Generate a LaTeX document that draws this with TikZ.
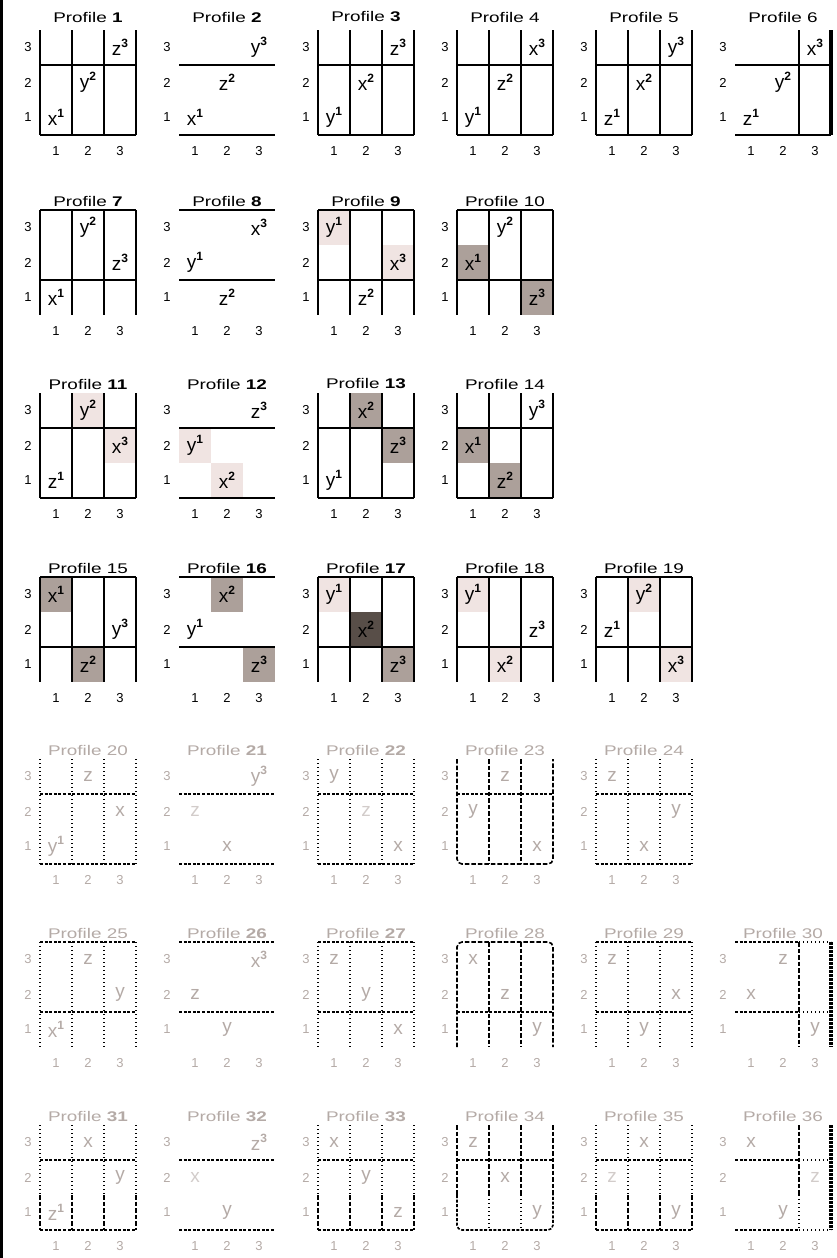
\documentclass[tikz,border=0pt]{standalone}
\usepackage{fontspec}
\setmainfont{Liberation Sans}
\newfontfamily\ttlfont[FakeStretch=1.35]{Liberation Sans}
\definecolor{tg}{RGB}{180,170,166}
\definecolor{shL}{RGB}{240,228,226}
\definecolor{shM}{RGB}{172,160,154}
\definecolor{shD}{RGB}{88,78,72}
\tikzset{
  gl/.style={line width=1.5pt},
  dotv/.style={line width=1.6pt, dash pattern=on 1.4pt off 2.6pt},
  dashh/.style={line width=1.6pt, dash pattern=on 3pt off 1.6pt},
  dashv/.style={line width=1.6pt, dash pattern=on 4.5pt off 2pt},
  thickr/.style={line width=4pt},
  entry/.style={inner sep=0pt, font=\fontsize{19}{19}\selectfont},
  lab/.style={inner sep=0pt, font=\fontsize{13}{13}\selectfont},
  ttl/.style={inner sep=0pt, font=\ttlfont\fontsize{14}{14}\selectfont},
}
\newcommand\Sp[2]{#1\raisebox{8pt}{\fontsize{12}{12}\selectfont\bfseries #2}}
\newcommand\En[5]{\node[entry,text=#5] (#1) at ({32*#2-16},{(3-#3)*35+17.5}) {#4};}
\newcommand\Sh[3]{\fill[#3] ({32*(#1-1)},{(3-#2)*35}) rectangle ++(32,35);}
\newcommand\Labs[2]{%
  \node[lab,text=#2] (#1r3) at (-12,17.5) {3};
  \node[lab,text=#2] (#1r2) at (-12,52.5) {2};
  \node[lab,text=#2] (#1r1) at (-12,87.5) {1};
  \node[lab,text=#2] (#1c1) at (16,121) {1};
  \node[lab,text=#2] (#1c2) at (48,121) {2};
  \node[lab,text=#2] (#1c3) at (80,121) {3};}
\newcommand\Ttl[4]{\node[ttl,text=#3] (#1t) at (48,#4) {Profile #2};}
\newcommand\VFull[1]{\draw[#1] (0,0)--(0,105) (32,0)--(32,105) (64,0)--(64,105) (96,0)--(96,105);}
\newcommand\HA[1]{\draw[#1] (0,35)--(96,35) (0,105)--(96,105);}
\newcommand\HB[1]{\draw[#1] (0,0)--(96,0) (0,70)--(96,70);}
\newcommand\VSplitA{\draw[dotv] (0,0)--(0,70) (32,0)--(32,70) (64,0)--(64,70) (96,0)--(96,70);
  \draw[dashv] (0,70)--(0,105) (32,70)--(32,105) (64,70)--(64,105) (96,70)--(96,105);}
\begin{document}
\begin{tikzpicture}[x=1pt,y=-1pt]
\useasboundingbox (0,0) rectangle (836,1258);
\draw[line width=3pt] (1.5,0) -- (1.5,1258);

% ---------- Row 1 ----------
\begin{scope}[shift={(40,30)}]
\VFull{gl}\HA{gl}
\Ttl{p1}{\textbf{1}}{black}{-13}\Labs{p1}{black}
\En{p1x}{1}{1}{\Sp{x}{1}}{black}\En{p1y}{2}{2}{\Sp{y}{2}}{black}\En{p1z}{3}{3}{\Sp{z}{3}}{black}
\end{scope}
\begin{scope}[shift={(179,30)}]
\HA{gl}
\Ttl{p2}{\textbf{2}}{black}{-13}\Labs{p2}{black}
\En{p2x}{1}{1}{\Sp{x}{1}}{black}\En{p2z}{2}{2}{\Sp{z}{2}}{black}\En{p2y}{3}{3}{\Sp{y}{3}}{black}
\end{scope}
\begin{scope}[shift={(318,30)}]
\VFull{gl}\HA{gl}
\Ttl{p3}{\textbf{3}}{black}{-13}\Labs{p3}{black}
\En{p3y}{1}{1}{\Sp{y}{1}}{black}\En{p3x}{2}{2}{\Sp{x}{2}}{black}\En{p3z}{3}{3}{\Sp{z}{3}}{black}
\end{scope}
\begin{scope}[shift={(457,30)}]
\VFull{gl}\HA{gl}
\Ttl{p4}{4}{black}{-13}\Labs{p4}{black}
\En{p4y}{1}{1}{\Sp{y}{1}}{black}\En{p4z}{2}{2}{\Sp{z}{2}}{black}\En{p4x}{3}{3}{\Sp{x}{3}}{black}
\end{scope}
\begin{scope}[shift={(596,30)}]
\VFull{gl}\HA{gl}
\Ttl{p5}{5}{black}{-13}\Labs{p5}{black}
\En{p5z}{1}{1}{\Sp{z}{1}}{black}\En{p5x}{2}{2}{\Sp{x}{2}}{black}\En{p5y}{3}{3}{\Sp{y}{3}}{black}
\end{scope}
\begin{scope}[shift={(735,30)}]
\draw[gl] (64,0)--(64,105);\draw[thickr] (96,0)--(96,105);\HA{gl}
\Ttl{p6}{6}{black}{-13}\Labs{p6}{black}
\En{p6z}{1}{1}{\Sp{z}{1}}{black}\En{p6y}{2}{2}{\Sp{y}{2}}{black}\En{p6x}{3}{3}{\Sp{x}{3}}{black}
\end{scope}

% ---------- Row 2 ----------
\begin{scope}[shift={(40,210)}]
\VFull{gl}\HB{gl}
\Ttl{p7}{\textbf{7}}{black}{-9}\Labs{p7}{black}
\En{p7x}{1}{1}{\Sp{x}{1}}{black}\En{p7y}{2}{3}{\Sp{y}{2}}{black}\En{p7z}{3}{2}{\Sp{z}{3}}{black}
\end{scope}
\begin{scope}[shift={(179,210)}]
\HB{gl}
\Ttl{p8}{\textbf{8}}{black}{-9}\Labs{p8}{black}
\En{p8y}{1}{2}{\Sp{y}{1}}{black}\En{p8z}{2}{1}{\Sp{z}{2}}{black}\En{p8x}{3}{3}{\Sp{x}{3}}{black}
\end{scope}
\begin{scope}[shift={(318,210)}]
\Sh{1}{3}{shL}\Sh{3}{2}{shL}
\VFull{gl}\HB{gl}
\Ttl{p9}{\textbf{9}}{black}{-9}\Labs{p9}{black}
\En{p9y}{1}{3}{\Sp{y}{1}}{black}\En{p9z}{2}{1}{\Sp{z}{2}}{black}\En{p9x}{3}{2}{\Sp{x}{3}}{black}
\end{scope}
\begin{scope}[shift={(457,210)}]
\Sh{1}{2}{shM}\Sh{3}{1}{shM}
\VFull{gl}\HB{gl}
\Ttl{p10}{10}{black}{-9}\Labs{p10}{black}
\En{p10x}{1}{2}{\Sp{x}{1}}{black}\En{p10y}{2}{3}{\Sp{y}{2}}{black}\En{p10z}{3}{1}{\Sp{z}{3}}{black}
\end{scope}

% ---------- Row 3 ----------
\begin{scope}[shift={(40,393)}]
\Sh{2}{3}{shL}\Sh{3}{2}{shL}
\VFull{gl}\HA{gl}
\Ttl{p11}{\textbf{11}}{black}{-9}\Labs{p11}{black}
\En{p11z}{1}{1}{\Sp{z}{1}}{black}\En{p11y}{2}{3}{\Sp{y}{2}}{black}\En{p11x}{3}{2}{\Sp{x}{3}}{black}
\end{scope}
\begin{scope}[shift={(179,393)}]
\Sh{1}{2}{shL}\Sh{2}{1}{shL}
\HA{gl}
\Ttl{p12}{\textbf{12}}{black}{-9}\Labs{p12}{black}
\En{p12y}{1}{2}{\Sp{y}{1}}{black}\En{p12x}{2}{1}{\Sp{x}{2}}{black}\En{p12z}{3}{3}{\Sp{z}{3}}{black}
\end{scope}
\begin{scope}[shift={(318,393)}]
\Sh{2}{3}{shM}\Sh{3}{2}{shM}
\VFull{gl}\HA{gl}
\Ttl{p13}{\textbf{13}}{black}{-9}\Labs{p13}{black}
\En{p13y}{1}{1}{\Sp{y}{1}}{black}\En{p13x}{2}{3}{\Sp{x}{2}}{black}\En{p13z}{3}{2}{\Sp{z}{3}}{black}
\end{scope}
\begin{scope}[shift={(457,393)}]
\Sh{1}{2}{shM}\Sh{2}{1}{shM}
\VFull{gl}\HA{gl}
\Ttl{p14}{14}{black}{-9}\Labs{p14}{black}
\En{p14x}{1}{2}{\Sp{x}{1}}{black}\En{p14z}{2}{1}{\Sp{z}{2}}{black}\En{p14y}{3}{3}{\Sp{y}{3}}{black}
\end{scope}

% ---------- Row 4 ----------
\begin{scope}[shift={(40,577)}]
\Sh{1}{3}{shM}\Sh{2}{1}{shM}
\VFull{gl}\HB{gl}
\Ttl{p15}{15}{black}{-9}\Labs{p15}{black}
\En{p15x}{1}{3}{\Sp{x}{1}}{black}\En{p15z}{2}{1}{\Sp{z}{2}}{black}\En{p15y}{3}{2}{\Sp{y}{3}}{black}
\end{scope}
\begin{scope}[shift={(179,577)}]
\Sh{2}{3}{shM}\Sh{3}{1}{shM}
\HB{gl}
\Ttl{p16}{\textbf{16}}{black}{-9}\Labs{p16}{black}
\En{p16y}{1}{2}{\Sp{y}{1}}{black}\En{p16x}{2}{3}{\Sp{x}{2}}{black}\En{p16z}{3}{1}{\Sp{z}{3}}{black}
\end{scope}
\begin{scope}[shift={(318,577)}]
\Sh{1}{3}{shL}\Sh{2}{2}{shD}\Sh{3}{1}{shM}
\VFull{gl}\HB{gl}
\Ttl{p17}{\textbf{17}}{black}{-9}\Labs{p17}{black}
\En{p17y}{1}{3}{\Sp{y}{1}}{black}\En{p17x}{2}{2}{\Sp{x}{2}}{black}\En{p17z}{3}{1}{\Sp{z}{3}}{black}
\end{scope}
\begin{scope}[shift={(457,577)}]
\Sh{1}{3}{shL}\Sh{2}{1}{shL}
\VFull{gl}\HB{gl}
\Ttl{p18}{18}{black}{-9}\Labs{p18}{black}
\En{p18y}{1}{3}{\Sp{y}{1}}{black}\En{p18x}{2}{1}{\Sp{x}{2}}{black}\En{p18z}{3}{2}{\Sp{z}{3}}{black}
\end{scope}
\begin{scope}[shift={(596,577)}]
\Sh{2}{3}{shL}\Sh{3}{1}{shL}
\VFull{gl}\HB{gl}
\Ttl{p19}{19}{black}{-9}\Labs{p19}{black}
\En{p19z}{1}{2}{\Sp{z}{1}}{black}\En{p19y}{2}{3}{\Sp{y}{2}}{black}\En{p19x}{3}{1}{\Sp{x}{3}}{black}
\end{scope}

% ---------- Row 5 ----------
\begin{scope}[shift={(40,759)}]
\VFull{dotv}\HA{dashh}
\Ttl{p20}{20}{tg}{-9}\Labs{p20}{tg}
\En{p20y}{1}{1}{\Sp{y}{1}}{tg}\En{p20z}{2}{3}{z}{tg}\En{p20x}{3}{2}{x}{tg}
\end{scope}
\begin{scope}[shift={(179,759)}]
\HA{dashh}
\Ttl{p21}{\textbf{21}}{tg}{-9}\Labs{p21}{tg}
\En{p21y}{3}{3}{\Sp{y}{3}}{tg}\En{p21z}{1}{2}{z}{tg!60}\En{p21x}{2}{1}{x}{tg}
\end{scope}
\begin{scope}[shift={(318,759)}]
\VFull{dotv}\HA{dashh}
\Ttl{p22}{\textbf{22}}{tg}{-9}\Labs{p22}{tg}
\En{p22y}{1}{3}{y}{tg}\En{p22z}{2}{2}{z}{tg!60}\En{p22x}{3}{1}{x}{tg}
\end{scope}
\begin{scope}[shift={(457,759)}]
\draw[dashv,rounded corners=5pt] (0,0)--(0,105)--(96,105)--(96,0);
\draw[dashv] (32,0)--(32,105) (64,0)--(64,105);
\draw[dashh] (0,35)--(96,35);
\Ttl{p23}{23}{tg}{-9}\Labs{p23}{tg}
\En{p23z}{2}{3}{z}{tg}\En{p23y}{1}{2}{y}{tg}\En{p23x}{3}{1}{x}{tg}
\end{scope}
\begin{scope}[shift={(596,759)}]
\VFull{dotv}\HA{dashh}
\Ttl{p24}{24}{tg}{-9}\Labs{p24}{tg}
\En{p24z}{1}{3}{z}{tg}\En{p24y}{3}{2}{y}{tg}\En{p24x}{2}{1}{x}{tg}
\end{scope}

% ---------- Row 6 ----------
\begin{scope}[shift={(40,942)}]
\VFull{dotv}\HB{dashh}
\Ttl{p25}{25}{tg}{-9}\Labs{p25}{tg}
\En{p25x}{1}{1}{\Sp{x}{1}}{tg}\En{p25z}{2}{3}{z}{tg}\En{p25y}{3}{2}{y}{tg}
\end{scope}
\begin{scope}[shift={(179,942)}]
\HB{dashh}
\Ttl{p26}{\textbf{26}}{tg}{-9}\Labs{p26}{tg}
\En{p26x}{3}{3}{\Sp{x}{3}}{tg}\En{p26z}{1}{2}{z}{tg}\En{p26y}{2}{1}{y}{tg}
\end{scope}
\begin{scope}[shift={(318,942)}]
\VFull{dotv}\HB{dashh}
\Ttl{p27}{\textbf{27}}{tg}{-9}\Labs{p27}{tg}
\En{p27z}{1}{3}{z}{tg}\En{p27y}{2}{2}{y}{tg}\En{p27x}{3}{1}{x}{tg}
\end{scope}
\begin{scope}[shift={(457,942)}]
\draw[dashv,rounded corners=5pt] (0,105)--(0,0)--(96,0)--(96,105);
\draw[dashv] (32,0)--(32,105) (64,0)--(64,105);
\draw[dashh] (0,70)--(96,70);
\Ttl{p28}{28}{tg}{-9}\Labs{p28}{tg}
\En{p28x}{1}{3}{x}{tg}\En{p28z}{2}{2}{z}{tg}\En{p28y}{3}{1}{y}{tg}
\end{scope}
\begin{scope}[shift={(596,942)}]
\VFull{dotv}\HB{dashh}
\Ttl{p29}{29}{tg}{-9}\Labs{p29}{tg}
\En{p29z}{1}{3}{z}{tg}\En{p29x}{3}{2}{x}{tg}\En{p29y}{2}{1}{y}{tg}
\end{scope}
\begin{scope}[shift={(735,942)}]
\draw[dashh] (0,0)--(64,0) (0,70)--(64,70);
\draw[dotv] (64,0)--(96,0) (64,70)--(96,70);
\draw[dashv] (64,0)--(64,105);
\draw[thickr,dash pattern=on 3pt off 1pt] (96,0)--(96,105);
\Ttl{p30}{30}{tg}{-9}\Labs{p30}{tg}
\En{p30z}{2}{3}{z}{tg}\En{p30x}{1}{2}{x}{tg}\En{p30y}{3}{1}{y}{tg}
\end{scope}

% ---------- Row 7 ----------
\begin{scope}[shift={(40,1125)}]
\VSplitA\HA{dashh}
\Ttl{p31}{\textbf{31}}{tg}{-9}\Labs{p31}{tg}
\En{p31z}{1}{1}{\Sp{z}{1}}{tg}\En{p31x}{2}{3}{x}{tg}\En{p31y}{3}{2}{y}{tg}
\end{scope}
\begin{scope}[shift={(179,1125)}]
\HA{dashh}
\Ttl{p32}{\textbf{32}}{tg}{-9}\Labs{p32}{tg}
\En{p32z}{3}{3}{\Sp{z}{3}}{tg}\En{p32x}{1}{2}{x}{tg!60}\En{p32y}{2}{1}{y}{tg}
\end{scope}
\begin{scope}[shift={(318,1125)}]
\VSplitA\HA{dashh}
\Ttl{p33}{\textbf{33}}{tg}{-9}\Labs{p33}{tg}
\En{p33x}{1}{3}{x}{tg}\En{p33y}{2}{2}{y}{tg}\En{p33z}{3}{1}{z}{tg}
\end{scope}
\begin{scope}[shift={(457,1125)}]
\draw[dashv] (0,0)--(0,70) (32,0)--(32,70) (64,0)--(64,70) (96,0)--(96,70);
\draw[dotv] (32,70)--(32,105) (64,70)--(64,105);
\draw[dashh] (0,35)--(96,35);
\draw[dashh,rounded corners=5pt] (0,70)--(0,105)--(96,105)--(96,70);
\Ttl{p34}{34}{tg}{-9}\Labs{p34}{tg}
\En{p34z}{1}{3}{z}{tg}\En{p34x}{2}{2}{x}{tg}\En{p34y}{3}{1}{y}{tg}
\end{scope}
\begin{scope}[shift={(596,1125)}]
\VSplitA\HA{dashh}
\Ttl{p35}{35}{tg}{-9}\Labs{p35}{tg}
\En{p35x}{2}{3}{x}{tg}\En{p35z}{1}{2}{z}{tg!60}\En{p35y}{3}{1}{y}{tg}
\end{scope}
\begin{scope}[shift={(735,1125)}]
\draw[dashv] (64,0)--(64,70);
\draw[dotv] (64,70)--(64,105);
\draw[dashh] (0,35)--(64,35) (0,105)--(64,105);
\draw[dotv] (64,35)--(96,35) (64,105)--(96,105);
\draw[thickr,dash pattern=on 3pt off 1pt] (96,0)--(96,105);
\Ttl{p36}{36}{tg}{-9}\Labs{p36}{tg}
\En{p36x}{1}{3}{x}{tg}\En{p36z}{3}{2}{z}{tg!60}\En{p36y}{2}{1}{y}{tg}
\end{scope}
\end{tikzpicture}
\end{document}
